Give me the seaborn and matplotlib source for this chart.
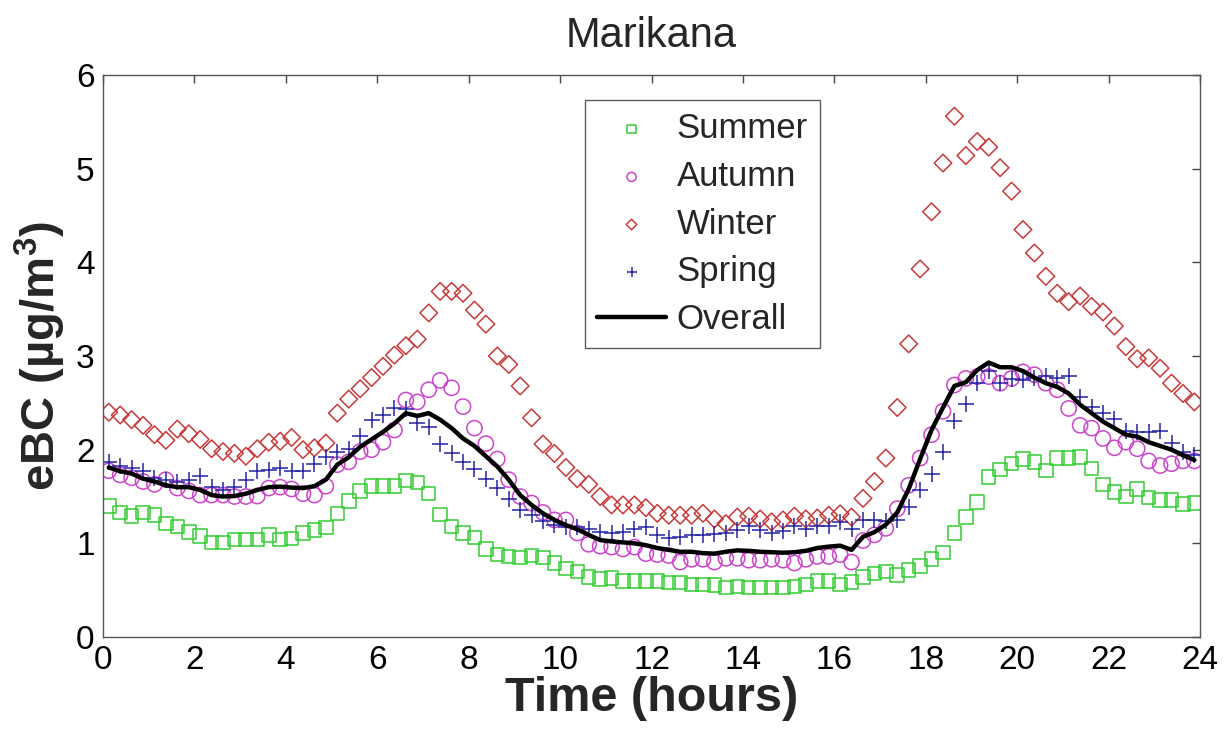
import numpy as np
import pandas as pd
import matplotlib
matplotlib.use("Agg")
import matplotlib.pyplot as plt
import seaborn as sns

# time of day (15-minute bins, centred)
hours = np.arange(96) * 0.25 + 0.125

summer = [1.40, 1.33, 1.29, 1.33, 1.30, 1.21, 1.18, 1.12, 1.08, 1.01, 1.01, 1.04, 1.04, 1.04, 1.09, 1.04,
          1.05, 1.11, 1.14, 1.17, 1.32, 1.45, 1.56, 1.61, 1.61, 1.61, 1.67, 1.65, 1.53, 1.31, 1.18, 1.11,
          1.06, 0.94, 0.88, 0.86, 0.85, 0.87, 0.85, 0.79, 0.73, 0.70, 0.64, 0.62, 0.63, 0.60, 0.60, 0.60,
          0.60, 0.58, 0.58, 0.56, 0.56, 0.555, 0.53, 0.54, 0.53, 0.53, 0.53, 0.53, 0.54, 0.56, 0.60, 0.60,
          0.56, 0.585, 0.64, 0.68, 0.70, 0.66, 0.715, 0.76, 0.83, 0.90, 1.11, 1.28, 1.44, 1.71, 1.79, 1.85,
          1.90, 1.87, 1.78, 1.91, 1.91, 1.92, 1.80, 1.63, 1.55, 1.50, 1.58, 1.49, 1.46, 1.46, 1.42, 1.43]

autumn = [1.775, 1.73, 1.70, 1.66, 1.63, 1.68, 1.59, 1.56, 1.515, 1.515, 1.515, 1.50, 1.50, 1.505, 1.59, 1.60,
          1.58, 1.53, 1.515, 1.61, 1.84, 1.87, 1.98, 2.00, 2.08, 2.21, 2.53, 2.51, 2.64, 2.74, 2.66, 2.46,
          2.23, 2.065, 1.90, 1.68, 1.50, 1.43, 1.33, 1.25, 1.25, 1.11, 0.99, 0.97, 0.96, 0.94, 0.96, 0.89,
          0.88, 0.87, 0.80, 0.83, 0.83, 0.80, 0.84, 0.84, 0.82, 0.82, 0.83, 0.82, 0.79, 0.83, 0.86, 0.86,
          0.88, 0.80, 1.03, 1.09, 1.16, 1.37, 1.62, 1.91, 2.16, 2.41, 2.69, 2.76, 2.78, 2.78, 2.71, 2.76,
          2.83, 2.80, 2.71, 2.64, 2.44, 2.26, 2.23, 2.12, 2.02, 2.08, 2.01, 1.88, 1.83, 1.85, 1.88, 1.88]

winter = [2.40, 2.37, 2.32, 2.26, 2.16, 2.10, 2.22, 2.17, 2.11, 2.01, 1.98, 1.96, 1.93, 2.01, 2.08, 2.09,
          2.13, 2.00, 2.02, 2.07, 2.39, 2.54, 2.65, 2.77, 2.89, 3.01, 3.11, 3.18, 3.46, 3.69, 3.69, 3.67,
          3.49, 3.34, 3.00, 2.91, 2.68, 2.34, 2.06, 1.96, 1.81, 1.69, 1.63, 1.50, 1.41, 1.41, 1.41, 1.38,
          1.32, 1.30, 1.30, 1.30, 1.32, 1.26, 1.21, 1.28, 1.29, 1.26, 1.23, 1.25, 1.29, 1.26, 1.27, 1.30,
          1.315, 1.28, 1.48, 1.66, 1.91, 2.45, 3.13, 3.93, 4.54, 5.06, 5.56, 5.14, 5.29, 5.23, 5.01, 4.76,
          4.35, 4.10, 3.85, 3.67, 3.58, 3.64, 3.53, 3.47, 3.32, 3.10, 2.97, 2.98, 2.87, 2.71, 2.60, 2.51]

spring = [1.87, 1.825, 1.80, 1.775, 1.70, 1.68, 1.66, 1.68, 1.72, 1.60, 1.57, 1.60, 1.68, 1.775, 1.78, 1.80,
          1.77, 1.775, 1.85, 1.92, 1.97, 2.01, 2.15, 2.32, 2.37, 2.45, 2.43, 2.285, 2.24, 2.065, 1.96, 1.87,
          1.79, 1.69, 1.59, 1.475, 1.36, 1.30, 1.24, 1.20, 1.175, 1.17, 1.15, 1.12, 1.115, 1.12, 1.15, 1.17,
          1.09, 1.055, 1.065, 1.09, 1.085, 1.095, 1.11, 1.14, 1.18, 1.14, 1.11, 1.13, 1.18, 1.15, 1.18, 1.19,
          1.23, 1.15, 1.25, 1.25, 1.24, 1.25, 1.39, 1.57, 1.735, 1.975, 2.31, 2.49, 2.715, 2.845, 2.71, 2.755,
          2.745, 2.77, 2.79, 2.765, 2.79, 2.56, 2.455, 2.39, 2.325, 2.195, 2.19, 2.19, 2.195, 2.07, 1.98, 1.94]

overall = [1.81, 1.77, 1.745, 1.69, 1.66, 1.62, 1.60, 1.60, 1.57, 1.515, 1.50, 1.505, 1.53, 1.57, 1.60, 1.605,
           1.595, 1.59, 1.61, 1.68, 1.84, 1.92, 2.03, 2.11, 2.19, 2.28, 2.39, 2.36, 2.39, 2.32, 2.23, 2.12,
           2.04, 1.93, 1.82, 1.68, 1.515, 1.41, 1.32, 1.25, 1.195, 1.15, 1.09, 1.035, 1.02, 1.01, 1.00, 0.98,
           0.95, 0.93, 0.91, 0.91, 0.895, 0.89, 0.91, 0.925, 0.92, 0.91, 0.905, 0.90, 0.905, 0.92, 0.95, 0.965,
           0.975, 0.93, 1.07, 1.12, 1.20, 1.33, 1.58, 1.90, 2.21, 2.45, 2.68, 2.72, 2.85, 2.93, 2.88, 2.88,
           2.84, 2.77, 2.71, 2.67, 2.60, 2.48, 2.39, 2.30, 2.23, 2.16, 2.14, 2.08, 2.04, 2.00, 1.94, 1.89]

series_names = ["Summer", "Autumn", "Winter", "Spring"]
xticks = [0, 2, 4, 6, 8, 10, 12, 14, 16, 18, 20, 22, 24]
yticks = [0, 1, 2, 3, 4, 5, 6]

df = pd.DataFrame({"Time": hours, "Summer": summer, "Autumn": autumn,
                   "Winter": winter, "Spring": spring, "Overall": overall})

sns.set_theme(style="white")
plt.rcParams["font.family"] = ["Liberation Sans", "DejaVu Sans"]

fig = plt.figure(figsize=(12.31, 7.29), dpi=100)
ax = fig.add_axes([0.0837, 0.1262, 0.8912, 0.7709])

styles = {
    "Summer": dict(marker="s", color="#33cc33", s=95, filled=True),
    "Autumn": dict(marker="o", color="#cc44cc", s=120, filled=True),
    "Winter": dict(marker="D", color="#c83a3a", s=80, filled=True),
    "Spring": dict(marker="+", color="#2424a4", s=120, filled=False),
}

for name in series_names:
    st = styles[name]
    if st["filled"]:
        sns.scatterplot(data=df, x="Time", y=name, marker=st["marker"], s=st["s"],
                        color=st["color"], facecolor="none", edgecolor=st["color"],
                        linewidth=1.1, ax=ax, label=name, zorder=2)
    else:
        sns.scatterplot(data=df, x="Time", y=name, marker=st["marker"], s=st["s"],
                        color=st["color"], linewidth=1.1, ax=ax, label=name, zorder=2)

sns.lineplot(data=df, x="Time", y="Overall", color="black", linewidth=3.2, ax=ax,
             label="Overall", zorder=3)

ax.set_xlim(0, 24)
ax.set_ylim(0, 6)
ax.set_xticks(xticks)
ax.set_yticks(yticks)
ax.tick_params(axis="both", which="both", direction="in", length=6, width=1,
               labelsize=24, top=True, right=True, colors="#444444", labelcolor="black", pad=6)
for sp in ax.spines.values():
    sp.set_visible(True)
    sp.set_color("#555555")
    sp.set_linewidth(1.0)

ax.set_xlabel("Time (hours)", fontsize=35, fontweight="bold", labelpad=0)
ax.set_ylabel("eBC (µg/m$^\\mathregular{3}$)", fontsize=34, fontweight="bold", labelpad=6)
ax.set_title("Marikana", fontsize=30, pad=20)

leg = ax.legend(loc="upper left", bbox_to_anchor=(0.439, 0.955), fontsize=25, frameon=True,
                fancybox=False, edgecolor="#333333", markerscale=0.6, handlelength=2.0,
                borderpad=0.35, labelspacing=0.42, handletextpad=0.3, borderaxespad=0)
leg.get_frame().set_linewidth(1.0)

fig.savefig("out.png", dpi=100)
